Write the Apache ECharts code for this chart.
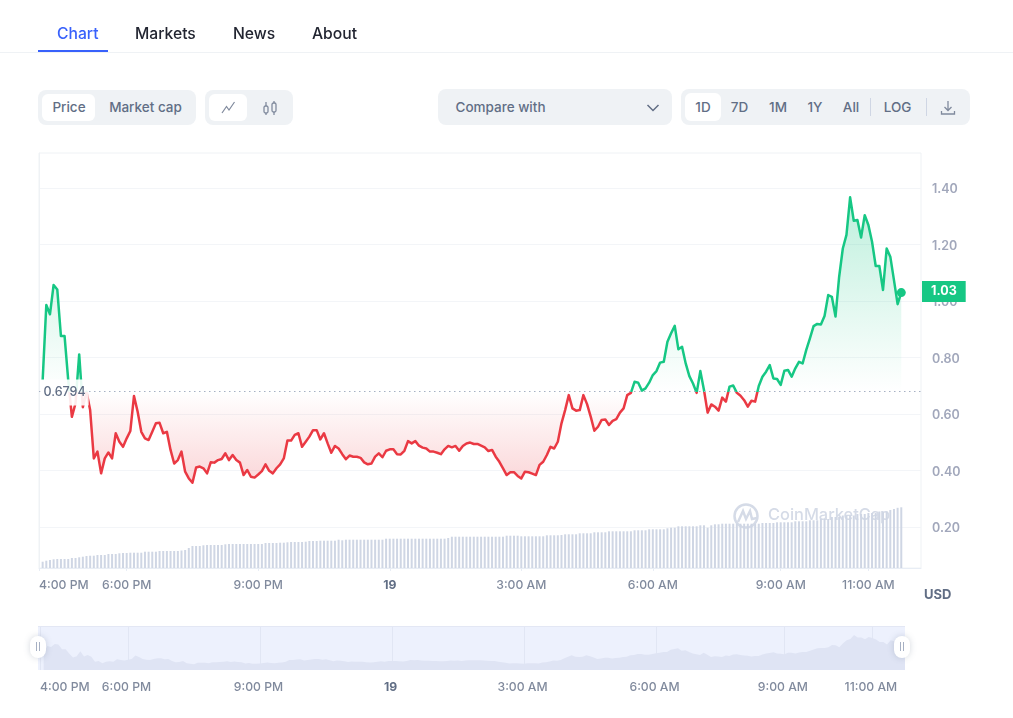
<!DOCTYPE html>
<html>
<head>
<meta charset="utf-8">
<title>Price chart</title>
<script src="https://cdn.jsdelivr.net/npm/echarts@6/dist/echarts.min.js"></script>
<style>
  html, body { margin: 0; background: #fff; font-family: Inter, "Noto Sans", sans-serif; }
  #page { position: relative; width: 1013px; height: 718px; overflow: hidden; }
  #chart { position: absolute; left: 0; top: 0; width: 1013px; height: 718px; }
  .abs { position: absolute; }
  .tab { position: absolute; top: 24px; font-size: 15.7px; font-weight: 500; line-height: 20px; color: #222531; }
  .box { position: absolute; background: #eff2f5; border-radius: 8px; }
  .on { position: absolute; background: #fff; border-radius: 6px; }
  .btn { position: absolute; top: 98px; font-size: 13.5px; font-weight: 500; line-height: 18px; color: #616e85; transform: translateX(-50%); white-space: nowrap; }
  .sep { position: absolute; top: 98px; width: 1px; height: 18px; background: #cfd6e4; }
</style>
</head>
<body>
<div id="page">
  <div id="chart"></div>

  <div class="tab" style="left:57px;color:#3861fb">Chart</div>
  <div class="tab" style="left:135px">Markets</div>
  <div class="tab" style="left:233px">News</div>
  <div class="tab" style="left:312px">About</div>
  <div class="abs" style="left:0;top:52px;width:1013px;height:1px;background:#eff2f5"></div>
  <div class="abs" style="left:38px;top:50px;width:70px;height:2px;background:#3861fb"></div>

  <div class="box" style="left:38px;top:90px;width:158px;height:35px"></div>
  <div class="on" style="left:42px;top:94px;width:53px;height:27px"></div>
  <div class="btn" style="left:69px">Price</div>
  <div class="btn" style="left:145.5px">Market cap</div>

  <div class="box" style="left:205px;top:90px;width:88px;height:35px"></div>
  <div class="on" style="left:209px;top:94px;width:38px;height:27px"></div>
  <svg class="abs" style="left:221px;top:100px" width="15" height="15" viewBox="0 0 15 15" fill="none" stroke="#808a9d" stroke-width="1.2"><path d="M1 13 L5.5 6.5 L8 10 L13.5 2"/></svg>
  <svg class="abs" style="left:262px;top:100px" width="16" height="16" viewBox="0 0 16 16" fill="none" stroke="#808a9d" stroke-width="1.3"><rect x="2" y="6" width="4" height="7" rx="1.5"/><path d="M4 2v4M4 13v2"/><rect x="10" y="3" width="4" height="9" rx="1.5"/><path d="M12 1v2M12 12v3"/></svg>

  <div class="box" style="left:438px;top:89px;width:234px;height:36px"></div>
  <div class="btn" style="left:500.5px">Compare with</div>
  <svg class="abs" style="left:646px;top:103px" width="14" height="10" viewBox="0 0 14 10" fill="none" stroke="#616e85" stroke-width="1.5"><path d="M1.5 2 L7 7.5 L12.5 2"/></svg>

  <div class="box" style="left:681px;top:89px;width:289px;height:36px"></div>
  <div class="on" style="left:685px;top:93px;width:36px;height:28px"></div>
  <div class="btn" style="left:703px">1D</div>
  <div class="btn" style="left:739.5px">7D</div>
  <div class="btn" style="left:778px">1M</div>
  <div class="btn" style="left:815px">1Y</div>
  <div class="btn" style="left:851px">All</div>
  <div class="sep" style="left:870px"></div>
  <div class="btn" style="left:897.5px">LOG</div>
  <div class="sep" style="left:926px"></div>
  <svg class="abs" style="left:940px;top:100px" width="16" height="16" viewBox="0 0 16 16" fill="none" stroke="#808a9d" stroke-width="1.3"><path d="M8 1v9M4.5 7 L8 10.5 L11.5 7M1.5 11v3h13v-3"/></svg>
</div>

<script>
var currency = "USD";
var openPrice = 0.6794;
var priceTicks = [0.2, 0.4, 0.6, 0.8, 1.0, 1.2, 1.4];
var timeTickIndexes = [0, 24, 60, 96, 132, 168, 203, 227];
var timeTickLabels = ["4:00 PM", "6:00 PM", "9:00 PM", "19", "3:00 AM", "6:00 AM", "9:00 AM", "11:00 AM"];

// one value per 5 minutes
var priceValues = [
  0.72, 0.986, 0.953, 1.057, 1.041, 0.876, 0.876, 0.72, 0.59, 0.638,
  0.811, 0.624, 0.679, 0.614, 0.443, 0.467, 0.39, 0.443, 0.464, 0.443,
  0.532, 0.502, 0.484, 0.514, 0.54, 0.664, 0.608, 0.537, 0.514, 0.508,
  0.537, 0.567, 0.569, 0.532, 0.537, 0.473, 0.425, 0.437, 0.467, 0.396,
  0.372, 0.357, 0.411, 0.414, 0.408, 0.39, 0.429, 0.428, 0.437, 0.441,
  0.461, 0.437, 0.455, 0.437, 0.428, 0.384, 0.402, 0.378, 0.375, 0.386,
  0.398, 0.422, 0.399, 0.39, 0.408, 0.422, 0.443, 0.506, 0.506, 0.526,
  0.532, 0.484, 0.502, 0.52, 0.543, 0.543, 0.51, 0.532, 0.496, 0.463,
  0.487, 0.478, 0.458, 0.44, 0.453, 0.449, 0.449, 0.445, 0.429, 0.422,
  0.425, 0.449, 0.461, 0.447, 0.47, 0.475, 0.475, 0.458, 0.457, 0.47,
  0.504, 0.496, 0.504, 0.488, 0.481, 0.478, 0.467, 0.467, 0.463, 0.458,
  0.475, 0.487, 0.482, 0.487, 0.47, 0.487, 0.496, 0.499, 0.494, 0.494,
  0.488, 0.482, 0.469, 0.473, 0.449, 0.431, 0.408, 0.384, 0.394, 0.394,
  0.381, 0.372, 0.396, 0.394, 0.389, 0.384, 0.42, 0.431, 0.455, 0.484,
  0.478, 0.502, 0.567, 0.614, 0.667, 0.62, 0.612, 0.614, 0.667, 0.635,
  0.591, 0.541, 0.555, 0.579, 0.581, 0.561, 0.576, 0.582, 0.605, 0.62,
  0.667, 0.675, 0.714, 0.711, 0.683, 0.691, 0.711, 0.738, 0.752, 0.782,
  0.785, 0.856, 0.886, 0.912, 0.829, 0.838, 0.779, 0.734, 0.708, 0.675,
  0.752, 0.685, 0.605, 0.634, 0.626, 0.612, 0.658, 0.644, 0.697, 0.701,
  0.675, 0.665, 0.649, 0.626, 0.647, 0.644, 0.699, 0.732, 0.75, 0.773,
  0.726, 0.724, 0.703, 0.753, 0.756, 0.732, 0.762, 0.785, 0.779, 0.827,
  0.868, 0.911, 0.919, 0.917, 0.947, 1.021, 1.015, 0.945, 1.086, 1.186,
  1.234, 1.367, 1.284, 1.287, 1.225, 1.304, 1.269, 1.21, 1.124, 1.124,
  1.039, 1.186, 1.157, 1.074, 0.989, 1.03
];

var volumeValues = [
  6.3, 7.3, 8, 8.7, 9, 9, 9, 9, 10, 10,
  10.7, 11.3, 12, 12.3, 12.3, 13, 13, 13, 14, 14,
  14, 14.7, 15, 15, 15.3, 15.3, 15.3, 15.3, 16.3, 16.3,
  16.3, 16.3, 17, 17, 17, 17, 17, 17, 17.5, 18,
  20, 22, 22, 22, 22.7, 23, 23, 23, 23, 23,
  23.7, 24, 24, 24, 24, 24, 24, 24, 24, 24,
  24, 25, 25, 25, 25, 25.3, 25.3, 25.7, 26, 26,
  26, 26, 26.3, 27, 27, 27, 27.3, 27.3, 27.3, 27.3,
  27.3, 28.3, 27.7, 28.3, 28.3, 28.3, 28.3, 28.3, 28.3, 28.3,
  28.3, 28.3, 28.3, 28.3, 29.3, 29.3, 29.3, 29.3, 29.3, 29.3,
  29.3, 29.3, 29.3, 29.3, 29.3, 29.3, 29.3, 29.3, 29.3, 29.3,
  29.3, 30, 31.3, 31.3, 31.3, 31.3, 31.3, 31.3, 31.3, 31.3,
  31.3, 31.3, 31.3, 31.3, 31.3, 31.3, 31.3, 32.3, 32.3, 32.3,
  32.3, 31.7, 31.7, 31.7, 31.7, 31.7, 31.7, 31.7, 32.7, 32.7,
  32.7, 32.7, 33, 33.7, 33.7, 33.7, 33.7, 34.7, 34.7, 34.7,
  34.7, 35.7, 35.7, 35.7, 35.7, 36.7, 36.7, 36.7, 36.7, 36.7,
  36.7, 36.7, 37.7, 37.7, 37.7, 37.7, 38.7, 38.7, 38.7, 38.7,
  38.7, 39.7, 40.3, 40.3, 41.7, 41.7, 41.7, 41.7, 41.7, 41.7,
  42.7, 42.7, 40.3, 42.7, 43.7, 43.7, 44.3, 44.3, 44.3, 44.3,
  44.3, 44.3, 44.3, 44.3, 44.3, 44.3, 44.3, 45, 45, 45,
  45, 45.7, 45.7, 45.7, 45.7, 45.7, 46.7, 46.7, 46.7, 46.7,
  47.7, 47.7, 47.7, 49, 49, 49, 51, 51, 51, 52.5,
  52.5, 52.5, 52.5, 54, 54, 54, 55, 55, 55, 56.5,
  56.5, 56.5, 58, 59, 60.2, 60.7
];

var green = "#16c784";
var red = "#ea3943";
var labelGrey = "#808a9d";
var priceMin = 0.055;
var priceMax = 1.524;

// the first sample sits one step right of the 4:00 PM tick
function pairs(values) {
  return values.map(function (v, i) { return [i + 1, v]; });
}
var lastIndex = priceValues.length;
var lastPrice = priceValues[lastIndex - 1];

function timeLabel(extra) {
  return Object.assign({
    customValues: timeTickIndexes,
    margin: 11,
    color: labelGrey,
    fontFamily: "Inter",
    fontSize: 12.2,
    fontWeight: 500,
    alignMinLabel: "left",
    formatter: function (v) {
      var text = timeTickLabels[timeTickIndexes.indexOf(v)];
      return text === "19" ? "{day|19}" : text;
    },
    rich: { day: { color: "#616e85", fontFamily: "Inter", fontSize: 12.2, fontWeight: 700 } }
  }, extra);
}

// line turns red below the opening price, hard stop at that level
var openStop = (priceMax - openPrice) / (priceMax - priceMin);

var chart = echarts.init(document.getElementById("chart"));

chart.setOption({
  animation: false,
  textStyle: { fontFamily: "Inter" },
  grid: [
    { left: 39, top: 153, width: 882, height: 415, show: true, borderColor: "#eff2f5", borderWidth: 1, backgroundColor: "#fff" },
    { left: 38, top: 626, width: 867, height: 44, show: true, borderWidth: 0, backgroundColor: "#edf1fd" }
  ],
  xAxis: [
    {
      type: "value", gridIndex: 0, min: 0, max: 241.4,
      axisLine: { show: true, lineStyle: { color: "#e8edf5" } },
      axisTick: { show: true, length: 3, customValues: timeTickIndexes, lineStyle: { color: "#e8edf5" } },
      splitLine: { show: false },
      axisLabel: timeLabel()
    },
    {
      type: "value", gridIndex: 1, min: -0.55, max: 235.9,
      axisLine: { show: false },
      axisTick: { show: false, customValues: timeTickIndexes },
      splitLine: { show: true, lineStyle: { color: "#e1e6f4" } },
      axisLabel: timeLabel({ margin: 11, padding: [0, 3, 0, 0] })
    }
  ],
  yAxis: [
    {
      type: "value", gridIndex: 0, position: "right", min: priceMin, max: priceMax,
      axisLine: { show: true, lineStyle: { color: "#eff2f5" } },
      axisTick: { show: false, customValues: priceTicks },
      splitLine: { show: true, lineStyle: { color: "#f3f5f8" } },
      axisLabel: {
        customValues: priceTicks,
        margin: 11,
        formatter: function (v) { return "{t|" + v.toFixed(2) + "}"; },
        rich: {
          t: { color: "#a1a7bb", fontFamily: "Inter", fontSize: 12.5, fontWeight: 600, padding: [3, 0, 0, 0] }
        }
      }
    },
    { type: "value", gridIndex: 0, min: 0, max: 415, show: false, splitLine: { show: false } },
    { type: "value", gridIndex: 1, min: 0.16, max: 1.68, show: false, splitLine: { show: false } }
  ],
  series: [
    {
      name: "above open", type: "line", xAxisIndex: 0, yAxisIndex: 0, showSymbol: false, silent: true,
      data: pairs(priceValues.map(function (v) { return Math.max(v, openPrice); })),
      lineStyle: { width: 0 },
      areaStyle: {
        origin: openPrice,
        opacity: 1,
        color: new echarts.graphic.LinearGradient(0, 198, 0, 392, [
          { offset: 0, color: "rgba(22,199,132,0.28)" },
          { offset: 1, color: "rgba(22,199,132,0)" }
        ], true)
      }
    },
    {
      name: "below open", type: "line", xAxisIndex: 0, yAxisIndex: 0, showSymbol: false, silent: true,
      data: pairs(priceValues.map(function (v) { return Math.min(v, openPrice); })),
      lineStyle: { width: 0 },
      areaStyle: {
        origin: openPrice,
        opacity: 1,
        color: new echarts.graphic.LinearGradient(0, 392, 0, 480, [
          { offset: 0, color: "rgba(234,57,67,0)" },
          { offset: 1, color: "rgba(234,57,67,0.2)" }
        ], true)
      }
    },
    {
      name: "Volume", type: "bar", xAxisIndex: 0, yAxisIndex: 1, barWidth: 2,
      data: pairs(volumeValues),
      itemStyle: { color: "#cfd6e4" }
    },
    {
      name: "Price", type: "line", xAxisIndex: 0, yAxisIndex: 0, showSymbol: false,
      data: pairs(priceValues),
      lineStyle: {
        width: 2.5,
        join: "round",
        color: new echarts.graphic.LinearGradient(0, 153, 0, 568, [
          { offset: 0, color: green },
          { offset: openStop, color: green },
          { offset: openStop, color: red },
          { offset: 1, color: red }
        ], true)
      },
      markLine: {
        silent: true,
        symbol: "none",
        label: { show: false },
        lineStyle: { color: "#a6b0c3", type: [1.5, 3.5], width: 1.2 },
        data: [
          { yAxis: openPrice },
          {
            yAxis: lastPrice,
            lineStyle: { color: "transparent", width: 0 },
            label: {
              show: true,
              position: "end",
              distance: 1,
              offset: [0, -1],
              formatter: lastPrice.toFixed(2),
              color: "#fff",
              backgroundColor: green,
              fontFamily: "Inter",
              fontSize: 12.5,
              fontWeight: 700,
              padding: [4, 9, 4, 9]
            }
          }
        ]
      },
      markPoint: {
        silent: true,
        symbol: "rect",
        symbolSize: 0,
        label: {
          show: true,
          position: "inside",
          offset: [0, 1],
          formatter: String(openPrice),
          color: "#616e85",
          fontFamily: "Inter",
          fontSize: 12.5,
          fontWeight: 500,
          backgroundColor: "rgba(255,255,255,0.9)",
          padding: [7, 3, 6, 3]
        },
        data: [{ coord: [7, openPrice] }]
      }
    },
    {
      name: "Last", type: "scatter", xAxisIndex: 0, yAxisIndex: 0, symbolSize: 9,
      data: [[lastIndex, lastPrice]],
      itemStyle: { color: green, opacity: 1 }
    },
    {
      name: "Navigator", type: "line", xAxisIndex: 1, yAxisIndex: 2, showSymbol: false, silent: true,
      data: pairs(priceValues),
      lineStyle: { width: 0 },
      areaStyle: { color: "#dfe4f4", opacity: 1, origin: "start" }
    }
  ],
  graphic: [
    { type: "circle", shape: { cx: 746, cy: 516, r: 11.5 }, style: { fill: "none", stroke: "#d5dbe7", lineWidth: 2.5 }, z: 1, silent: true },
    { type: "polyline", shape: { points: [[738, 522], [743, 511], [746, 519], [750, 511], [752, 519], [757, 518]] }, style: { fill: "none", stroke: "#d5dbe7", lineWidth: 2.5 }, z: 1, silent: true },
    { type: "text", x: 768, y: 507, style: { text: "CoinMarketCap", fill: "#d5dbe7", font: "500 16.4px Inter" }, z: 1, silent: true },
    { type: "text", x: 924, y: 589, style: { text: currency, fill: "#616e85", font: "700 13px Inter" }, z: 5, silent: true },

    { type: "rect", shape: { x: 38, y: 626, width: 867, height: 1 }, style: { fill: "#e3e7f4" }, z: 4, silent: true },
    { type: "rect", shape: { x: 30, y: 636, width: 16, height: 22, r: 8 }, style: { fill: "#fff", shadowBlur: 6, shadowColor: "rgba(88,102,126,0.25)" }, z: 6, silent: true },
    { type: "rect", shape: { x: 36, y: 642, width: 1, height: 9 }, style: { fill: "#a6b0c3" }, z: 7, silent: true },
    { type: "rect", shape: { x: 39, y: 642, width: 1, height: 9 }, style: { fill: "#a6b0c3" }, z: 7, silent: true },
    { type: "rect", shape: { x: 894, y: 636, width: 16, height: 22, r: 8 }, style: { fill: "#fff", shadowBlur: 6, shadowColor: "rgba(88,102,126,0.25)" }, z: 6, silent: true },
    { type: "rect", shape: { x: 900, y: 642, width: 1, height: 9 }, style: { fill: "#a6b0c3" }, z: 7, silent: true },
    { type: "rect", shape: { x: 903, y: 642, width: 1, height: 9 }, style: { fill: "#a6b0c3" }, z: 7, silent: true }
  ]
});
</script>
</body>
</html>
